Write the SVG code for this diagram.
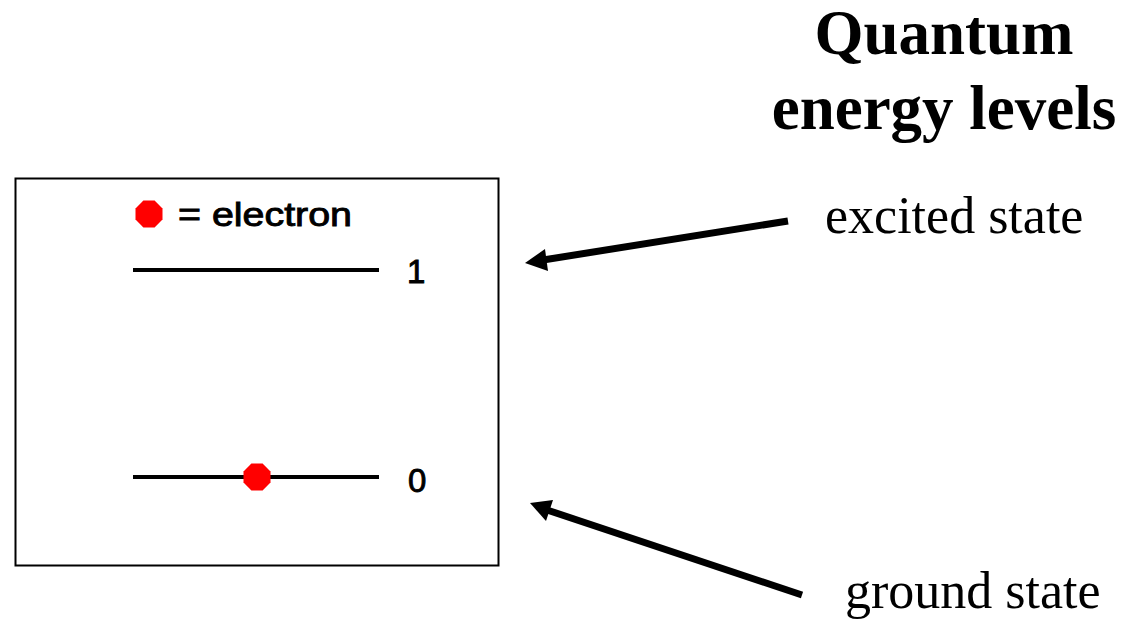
<svg xmlns="http://www.w3.org/2000/svg" width="1128" height="621" viewBox="0 0 1128 621">
  <style>
    .title { font-family: "Liberation Serif", "Times New Roman", serif; font-weight: bold; font-size: 63px; fill: #000; }
    .label { font-family: "Liberation Serif", "Times New Roman", serif; font-size: 52px; fill: #000; }
    .sans { font-family: "Liberation Sans", Arial, sans-serif; font-size: 33px; fill: #000; stroke: #000; stroke-width: 0.9; }
    .level { stroke: #000; stroke-width: 4; }
    .arrow { stroke: #000; stroke-width: 7; fill: none; }
    .electron { fill: #ff0000; }
  </style>
  <defs>
    <polygon id="oct" points="-5.6,-13.5 5.6,-13.5 13.5,-5.6 13.5,5.6 5.6,13.5 -5.6,13.5 -13.5,5.6 -13.5,-5.6"/>
  </defs>
  <rect width="1128" height="621" fill="#fff"/>

  <g id="title">
    <text class="title" x="944" y="54" text-anchor="middle">Quantum</text>
    <text class="title" x="944" y="129" text-anchor="middle">energy levels</text>
  </g>

  <g id="diagram-box">
    <rect x="15.5" y="178.5" width="483" height="387" fill="#fff" stroke="#000" stroke-width="2"/>
  </g>

  <g id="legend">
    <use href="#oct" class="electron" x="149" y="214"/>
    <text class="sans" x="178" y="226" textLength="174" lengthAdjust="spacingAndGlyphs">= electron</text>
  </g>

  <g id="level-1">
    <line class="level" x1="133" y1="270" x2="379" y2="270"/>
    <text class="sans" x="407" y="283" font-size="35">1</text>
  </g>

  <g id="level-0">
    <line class="level" x1="133" y1="477" x2="379" y2="477"/>
    <use href="#oct" class="electron" x="257" y="477"/>
    <text class="sans" x="408" y="492" font-size="35">0</text>
  </g>

  <g id="excited-state">
    <text class="label" x="825" y="233">excited state</text>
  </g>

  <g id="ground-state">
    <text class="label" x="845" y="608" font-size="53">ground state</text>
  </g>

  <g id="connectors">
    <line class="arrow" x1="788" y1="221" x2="543" y2="260"/>
    <polygon points="525,263 545,249 548,271" fill="#000"/>
    <line class="arrow" x1="802" y1="595" x2="547" y2="510"/>
    <polygon points="530,503 553,500 546,521" fill="#000"/>
  </g>
</svg>
